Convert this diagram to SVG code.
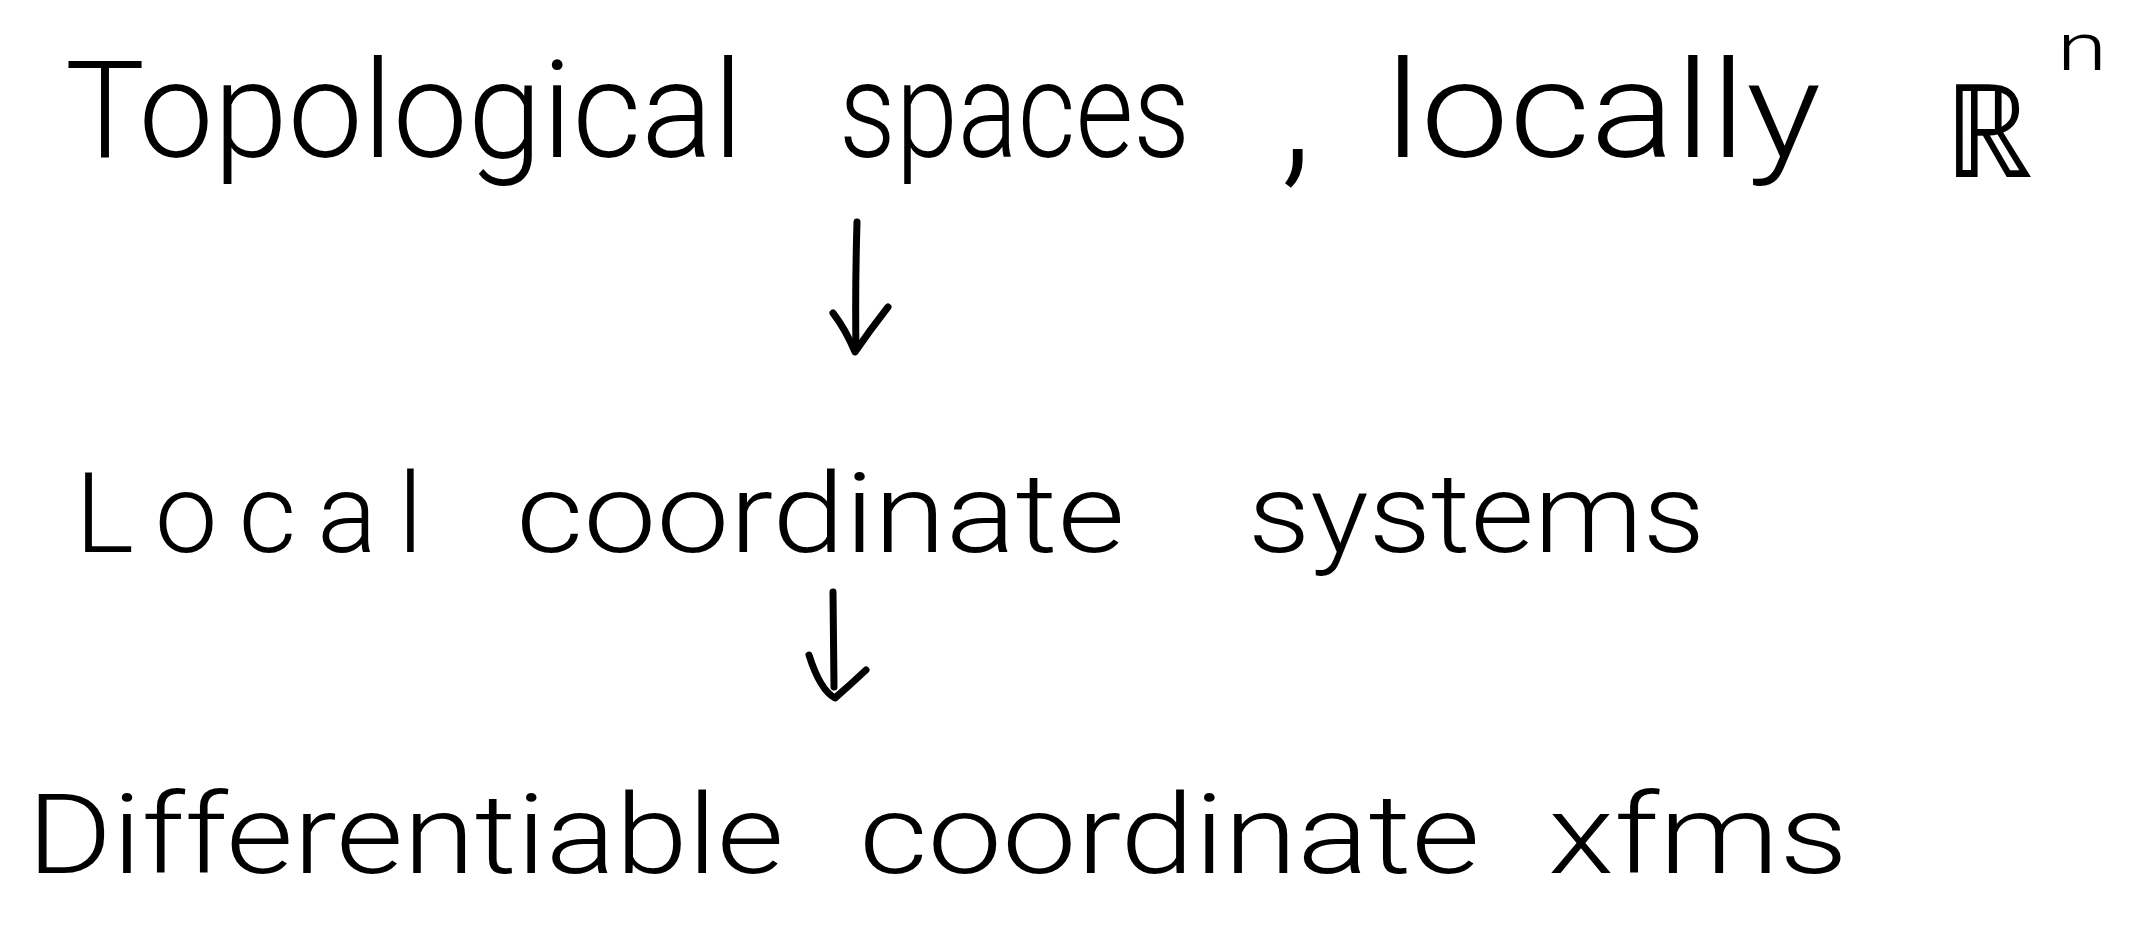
<svg xmlns="http://www.w3.org/2000/svg" width="2139" height="928" viewBox="0 0 2139 928">
  <style>
    .t { font-family: Roboto, "Open Sans", "Liberation Sans", sans-serif; font-weight: 300; fill: #000; }
    .arrow { fill: none; stroke: #000; stroke-width: 7; stroke-linecap: round; stroke-linejoin: round; }
  </style>
  <rect width="2139" height="928" fill="#fff"/>

  <!-- top level: topological spaces -->
  <g id="node-topological">
    <text class="t" x="65" y="157" font-size="135" textLength="678" lengthAdjust="spacingAndGlyphs">Topological</text>
    <text class="t" x="839" y="157" font-size="135" textLength="351" lengthAdjust="spacingAndGlyphs">spaces</text>
    <text class="t" x="1280" y="165" font-size="170">,</text>
    <text class="t" x="1385" y="157" font-size="135" textLength="436" lengthAdjust="spacingAndGlyphs">locally</text>
    <text class="t" x="1944" y="177" font-size="130" font-family="DejaVu Sans, sans-serif" textLength="89" lengthAdjust="spacingAndGlyphs">ℝ</text>
    <text class="t" x="2057" y="70" font-size="66" textLength="50" lengthAdjust="spacingAndGlyphs">n</text>
  </g>

  <!-- middle level: local coordinate systems -->
  <g id="node-local">
    <text class="t" x="75" y="552" font-size="112" textLength="348" lengthAdjust="spacing">Local</text>
    <text class="t" x="516" y="552" font-size="112" textLength="609" lengthAdjust="spacingAndGlyphs">coordinate</text>
    <text class="t" x="1248" y="552" font-size="112" textLength="457" lengthAdjust="spacingAndGlyphs">systems</text>
  </g>

  <!-- bottom level: differentiable transforms -->
  <g id="node-differentiable">
    <text class="t" x="27" y="873" font-size="112" textLength="757" lengthAdjust="spacingAndGlyphs">Differentiable</text>
    <text class="t" x="859" y="873" font-size="112" textLength="621" lengthAdjust="spacingAndGlyphs">coordinate</text>
    <text class="t" x="1548" y="873" font-size="112" textLength="300" lengthAdjust="spacingAndGlyphs">xfms</text>
  </g>

  <g id="connectors">
    <path class="arrow" d="M857 222 Q855 290 856 350"/>
    <path class="arrow" d="M833 313 Q846 330 855 352 Q870 330 888 307"/>
    <path class="arrow" d="M833 592 L834 687"/>
    <path class="arrow" d="M809 655 Q820 690 835 698 Q850 685 866 670"/>
  </g>
</svg>
